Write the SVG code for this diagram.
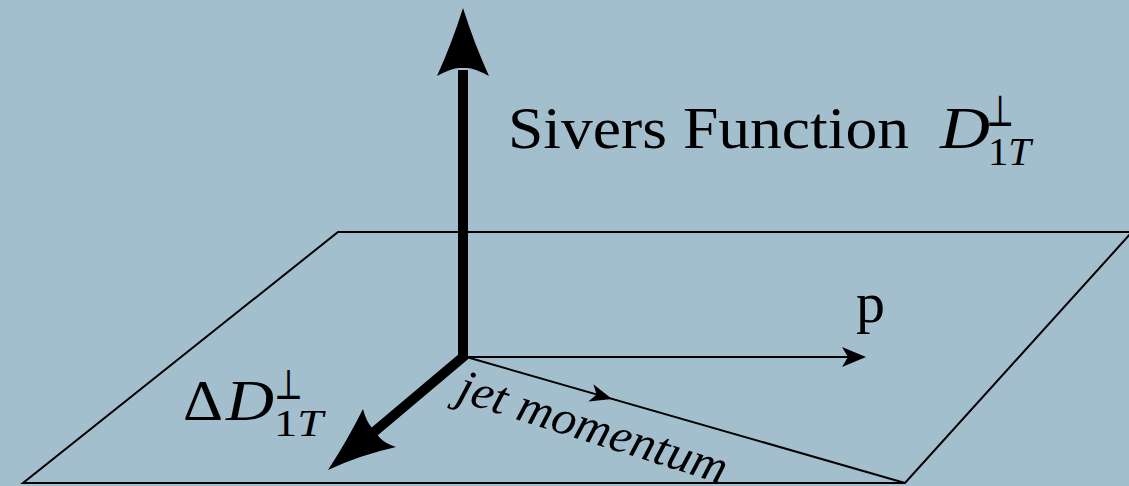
<svg xmlns="http://www.w3.org/2000/svg" width="1129" height="486" viewBox="0 0 1129 486">
<style>
.thin{fill:none;stroke:#000;stroke-width:2}
.serif{font-family:"Liberation Serif","DejaVu Serif",serif;fill:#000}
.it{font-style:italic}
.sym{font-family:"DejaVu Serif","Liberation Serif",serif;fill:#000}
.jet{font-family:"Liberation Serif","DejaVu Serif",serif;font-style:italic;fill:#000}
</style>
<rect x="0" y="0" width="1129" height="486" fill="#a3becd"/>
<g id="plane">
<polygon class="thin" points="338,232 1132,232 905,483 23,483"/>
</g>
<g id="connectors">
<path d="M463,70 L463,357 L374,432" fill="none" stroke="#000" stroke-width="10" stroke-linejoin="miter"/>
<path d="M463,8 Q474,43 489,76 Q474,68 467,68 L459,68 Q452,68 437,76 Q452,43 463,8 Z" fill="#000"/>
<path d="M328,470 Q347,441 363,409 Q366,421 372,428 L380,438 Q386,444 396,447 Q360,455 328,470 Z" fill="#000"/>
<line class="thin" x1="463" y1="357" x2="848" y2="357"/>
<polygon points="866,357 842,347 848,357 842,367" fill="#000"/>
<line class="thin" x1="463" y1="356" x2="905" y2="483"/>
<polygon points="0,0 -22,-9 -16,0 -22,9" fill="#000" transform="translate(612,399) rotate(16.1)"/>
</g>
<g id="sivers-label">
<text class="serif" x="508" y="148" font-size="60" textLength="401" lengthAdjust="spacingAndGlyphs">Sivers Function</text>
<text class="serif it" x="940" y="148" font-size="60" textLength="50" lengthAdjust="spacingAndGlyphs">D</text>
<text class="sym" x="986" y="126" font-size="44" textLength="28" lengthAdjust="spacingAndGlyphs">⊥</text>
<text class="serif" x="988" y="165" font-size="40" textLength="43" lengthAdjust="spacingAndGlyphs">1<tspan class="it">T</tspan></text>
</g>
<g id="delta-label">
<text class="serif" x="183" y="420" font-size="56" textLength="40" lengthAdjust="spacingAndGlyphs">Δ</text>
<text class="serif it" x="226" y="420" font-size="56" textLength="48" lengthAdjust="spacingAndGlyphs">D</text>
<text class="sym" x="274" y="399" font-size="42" textLength="29" lengthAdjust="spacingAndGlyphs">⊥</text>
<text class="serif" x="274" y="436" font-size="38" textLength="49" lengthAdjust="spacingAndGlyphs">1<tspan class="it">T</tspan></text>
</g>
<g id="p-label">
<text class="serif" x="856" y="322" font-size="58">p</text>
</g>
<g id="jet-label">
<text class="jet" x="0" y="0" font-size="48" textLength="280" lengthAdjust="spacingAndGlyphs" transform="translate(455,400) rotate(17.5)">jet momentum</text>
</g>
</svg>
